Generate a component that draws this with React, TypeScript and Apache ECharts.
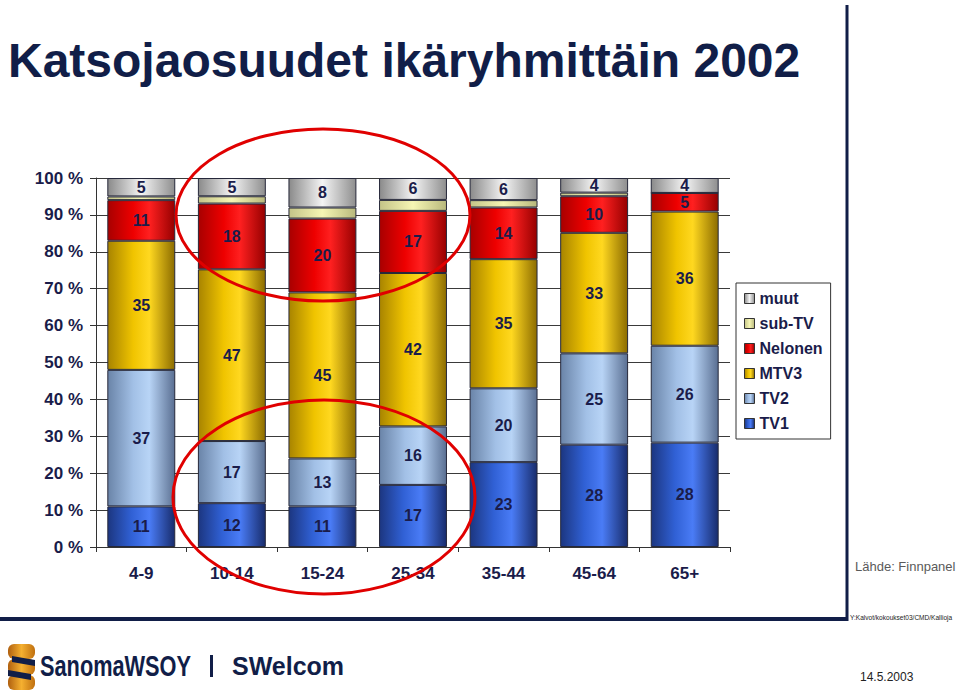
import React, { useEffect, useRef } from "react";
import * as echarts from "echarts";

const categories = ["4-9", "10-14", "15-24", "25-34", "35-44", "45-64", "65+"];
const tv1 = [11, 12, 11, 17, 23, 28, 28];
const tv2 = [37, 17, 13, 16, 20, 25, 26];
const mtv3 = [35, 47, 45, 42, 35, 33, 36];
const nelonen = [11, 18, 20, 17, 14, 10, 5];
const subTv = [1, 2, 3, 3, 2, 1, 0];
const muut = [5, 5, 8, 6, 6, 4, 4];
const seriesNames = ["TV1", "TV2", "MTV3", "Nelonen", "sub-TV", "muut"];
const yTicks = [0, 10, 20, 30, 40, 50, 60, 70, 80, 90, 100];

const TITLE = "Katsojaosuudet ikäryhmittäin 2002";
const NAVY = "#111e48";
const LABEL = "#1a1c4a";
const FONT = "Liberation Sans, Arial, sans-serif";

const grad = (stops: [number, string][]) =>
  new echarts.graphic.LinearGradient(
    0, 0, 1, 0,
    stops.map(([offset, color]) => ({ offset, color }))
  );

const gradients = [
  grad([[0, "#1c3680"], [0.35, "#3060d4"], [0.62, "#4a7cf6"], [1, "#182c6c"]]),
  grad([[0, "#6a84a8"], [0.38, "#a2c0e6"], [0.62, "#b8d4f6"], [1, "#5a6f92"]]),
  grad([[0, "#a88400"], [0.38, "#f0c400"], [0.62, "#ffd820"], [1, "#8c6c00"]]),
  grad([[0, "#a80000"], [0.38, "#ee0000"], [0.62, "#ff2020"], [1, "#960000"]]),
  grad([[0, "#c4c488"], [0.5, "#f6f6b4"], [1, "#b8b87c"]]),
  grad([[0, "#8a8a8a"], [0.5, "#f4f4f4"], [1, "#8e8e8e"]]),
];

export default function App() {
  const ref = useRef<HTMLDivElement>(null);
  useEffect(() => {
    if (!ref.current) return;
    const chart = echarts.init(ref.current, undefined, { renderer: "svg" });
    const raw = [tv1, tv2, mtv3, nelonen, subTv, muut];
    const totals = categories.map((_, i) => raw.reduce((s, arr) => s + arr[i], 0));

    const series = raw.map((arr, si) => ({
      name: seriesNames[si],
      type: "bar",
      stack: "all",
      barWidth: "75%",
      data: arr.map((v, i) => (v / totals[i]) * 100),
      itemStyle: { color: gradients[si], borderColor: "#26283a", borderWidth: 1 },
      label: {
        show: seriesNames[si] !== "sub-TV",
        position: "inside",
        color: LABEL,
        fontSize: 16,
        fontWeight: "bold",
        fontFamily: FONT,
        formatter: (p: any) => String(arr[p.dataIndex]),
      },
      emphasis: { disabled: true },
    }));

    const goldGrad = () => grad([[0, "#b06010"], [0.5, "#f5b030"], [1, "#c07010"]]);

    const option: any = {
      animation: false,
      backgroundColor: "#ffffff",
      textStyle: { fontFamily: FONT },
      grid: { left: 96, right: 229, top: 178, bottom: 145, containLabel: false },
      legend: {
        data: ["muut", "sub-TV", "Nelonen", "MTV3", "TV2", "TV1"],
        orient: "vertical",
        left: 736,
        top: 283,
        icon: "rect",
        itemWidth: 10,
        itemHeight: 10,
        itemGap: 8,
        padding: [7, 8, 7, 8],
        borderColor: "#333",
        borderWidth: 1,
        selectedMode: false,
        textStyle: { color: LABEL, fontSize: 16, fontWeight: "bold", lineHeight: 17 },
        itemStyle: { borderColor: "#333", borderWidth: 1 },
      },
      xAxis: {
        type: "category",
        data: categories,
        axisLine: { lineStyle: { color: "#333", width: 1 } },
        axisTick: { show: true, alignWithLabel: false, length: 5, lineStyle: { color: "#333" } },
        axisLabel: { color: LABEL, fontSize: 17, fontWeight: "bold", margin: 18 },
      },
      yAxis: {
        type: "value",
        min: yTicks[0],
        max: yTicks[yTicks.length - 1],
        interval: 10,
        axisLine: { show: true, lineStyle: { color: "#333", width: 1 } },
        axisTick: { show: true, length: 6, lineStyle: { color: "#333" } },
        axisLabel: { color: LABEL, fontSize: 17, fontWeight: "bold", margin: 13, formatter: "{value} %" },
        splitLine: { show: true, lineStyle: { color: "#3a3a3a", width: 1 } },
      },
      series,
      graphic: [
        {
          type: "text",
          x: 8,
          y: 60,
          z: 10,
          style: {
            text: TITLE,
            fill: NAVY,
            fontSize: 48,
            fontWeight: "bold",
            fontFamily: FONT,
            align: "left",
            verticalAlign: "middle",
          },
        },
        {
          type: "ellipse",
          z: 100,
          shape: { cx: 323, cy: 215, rx: 147, ry: 86 },
          style: { fill: "none", stroke: "#e00000", lineWidth: 3 },
        },
        {
          type: "ellipse",
          z: 100,
          shape: { cx: 324, cy: 497, rx: 151, ry: 97 },
          style: { fill: "none", stroke: "#e00000", lineWidth: 3 },
        },
        {
          type: "line",
          z: 10,
          shape: { x1: 847, y1: 5, x2: 847, y2: 621 },
          style: { stroke: NAVY, lineWidth: 3 },
        },
        {
          type: "line",
          z: 10,
          shape: { x1: 0, y1: 619, x2: 847, y2: 619 },
          style: { stroke: NAVY, lineWidth: 4 },
        },
        {
          type: "text",
          x: 855,
          y: 566,
          style: { text: "Lähde: Finnpanel", fill: "#5a5a5a", fontSize: 13, fontFamily: FONT, verticalAlign: "middle" },
        },
        {
          type: "text",
          x: 850,
          y: 617,
          scaleX: 0.82,
          style: { text: "Y:Kalvot/kokoukset03/CMD/Kallioja", fill: "#222", fontSize: 8, fontFamily: FONT, verticalAlign: "middle" },
        },
        {
          type: "text",
          x: 860,
          y: 677,
          style: { text: "14.5.2003", fill: "#222", fontSize: 12, fontFamily: FONT, verticalAlign: "middle" },
        },
        {
          type: "group",
          x: 8,
          y: 644,
          children: [
            { type: "rect", shape: { x: 0, y: 0, width: 27, height: 15, r: 6 }, style: { fill: goldGrad() } },
            { type: "rect", shape: { x: 0, y: 15, width: 27, height: 16, r: 6 }, style: { fill: goldGrad() } },
            { type: "rect", shape: { x: 0, y: 31, width: 27, height: 15, r: 6 }, style: { fill: goldGrad() } },
            { type: "polygon", shape: { points: [[4, 12], [27, 16], [27, 22], [4, 18]] }, style: { fill: NAVY } },
            { type: "polygon", shape: { points: [[0, 26], [23, 30], [23, 36], [0, 32]] }, style: { fill: NAVY } },
          ],
        },
        {
          type: "text",
          x: 40,
          y: 666,
          scaleX: 0.75,
          style: { text: "SanomaWSOY", fill: NAVY, fontSize: 29, fontWeight: "bold", fontFamily: FONT, verticalAlign: "middle" },
        },
        {
          type: "rect",
          shape: { x: 210, y: 655, width: 3, height: 22 },
          style: { fill: NAVY },
        },
        {
          type: "text",
          x: 232,
          y: 666,
          style: { text: "SWelcom", fill: NAVY, fontSize: 25, fontWeight: "bold", fontFamily: FONT, verticalAlign: "middle" },
        },
      ],
    };
    chart.setOption(option);
    return () => chart.dispose();
  }, []);
  return (
    <div
      ref={ref}
      style={{ position: "absolute", left: 0, top: 0, width: 959, height: 692, background: "#fff" }}
    />
  );
}
